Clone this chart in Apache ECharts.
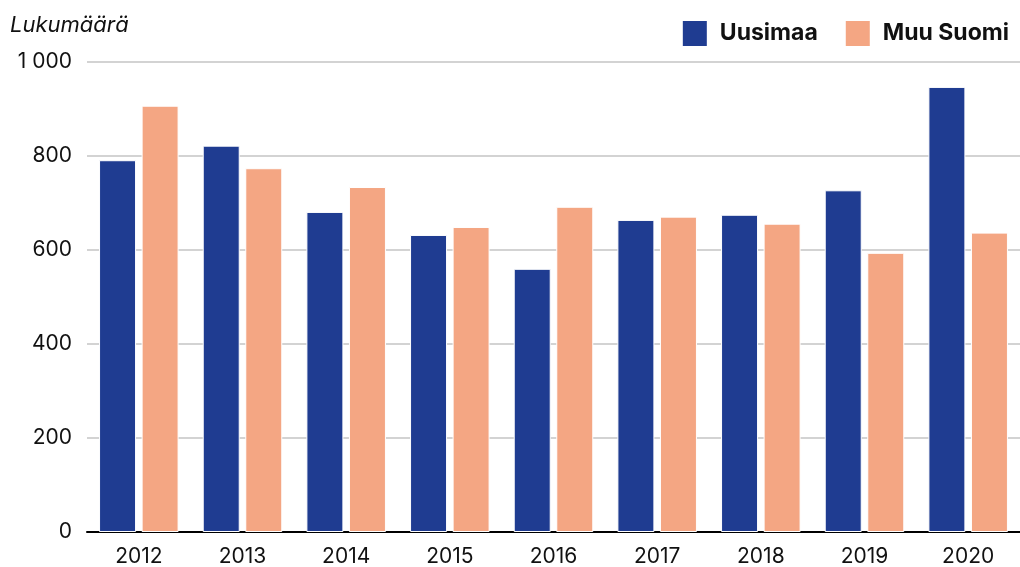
<!DOCTYPE html>
<html>
<head>
<meta charset="utf-8">
<script src="https://cdn.jsdelivr.net/npm/echarts@6/dist/echarts.min.js"></script>
<style>
  html, body { margin: 0; padding: 0; background: #fff; }
  #main { width: 1020px; height: 567px; }
</style>
</head>
<body>
<div id="main"></div>
<script>
// vuodet ja arvot
var years = ['2012', '2013', '2014', '2015', '2016', '2017', '2018', '2019', '2020'];
var uusimaa = [791, 822, 681, 632, 560, 664, 675, 727, 947];
var muuSuomi = [907, 774, 734, 649, 692, 671, 656, 594, 637];
var yTicks = [0, 200, 400, 600, 800, 1000];

var myChart = echarts.init(document.getElementById('main'));
var fontName = 'Inter';

var option = {
    animation: false,
    grid: { left: 87, right: 0, top: 62, bottom: 35 },
    legend: {
        right: 6,
        top: 14,
        icon: 'rect',
        itemWidth: 26,
        itemHeight: 27,
        itemGap: 26,
        textStyle: { fontFamily: fontName, fontSize: 23, fontWeight: 'bold', color: '#111', padding: [0, 0, 0, 7] },
        data: ['Uusimaa', 'Muu Suomi']
    },
    xAxis: {
        type: 'category',
        data: years,
        axisLine: { lineStyle: { color: '#000', width: 2 } },
        axisTick: { show: false },
        axisLabel: { fontFamily: fontName, fontSize: 21, color: '#111', margin: 14 }
    },
    yAxis: {
        type: 'value',
        min: yTicks[0],
        max: yTicks[yTicks.length - 1],
        interval: 200,
        name: 'Lukumäärä',
        nameLocation: 'end',
        nameGap: 26,
        nameTextStyle: { fontFamily: fontName, fontSize: 22, fontStyle: 'italic', color: '#111', align: 'left', padding: [0, 0, 0, -77] },
        axisLabel: {
            fontFamily: fontName, fontSize: 21, color: '#111', margin: 15,
            formatter: function (v) { return v >= 1000 ? String(v).replace(/(\d)(\d{3})$/, '$1 $2') : String(v); }
        },
        splitLine: { lineStyle: { color: '#d3d3d3', width: 2 } }
    },
    series: [
        {
            name: 'Uusimaa',
            type: 'bar',
            data: uusimaa,
            barWidth: 37,
            barGap: '15%',
            itemStyle: { color: '#1f3c91', borderColor: '#fff', borderWidth: 1 }
        },
        {
            name: 'Muu Suomi',
            type: 'bar',
            data: muuSuomi,
            barWidth: 37,
            itemStyle: { color: '#f4a683', borderColor: '#fff', borderWidth: 1 }
        }
    ]
};
myChart.setOption(option);
</script>
</body>
</html>
